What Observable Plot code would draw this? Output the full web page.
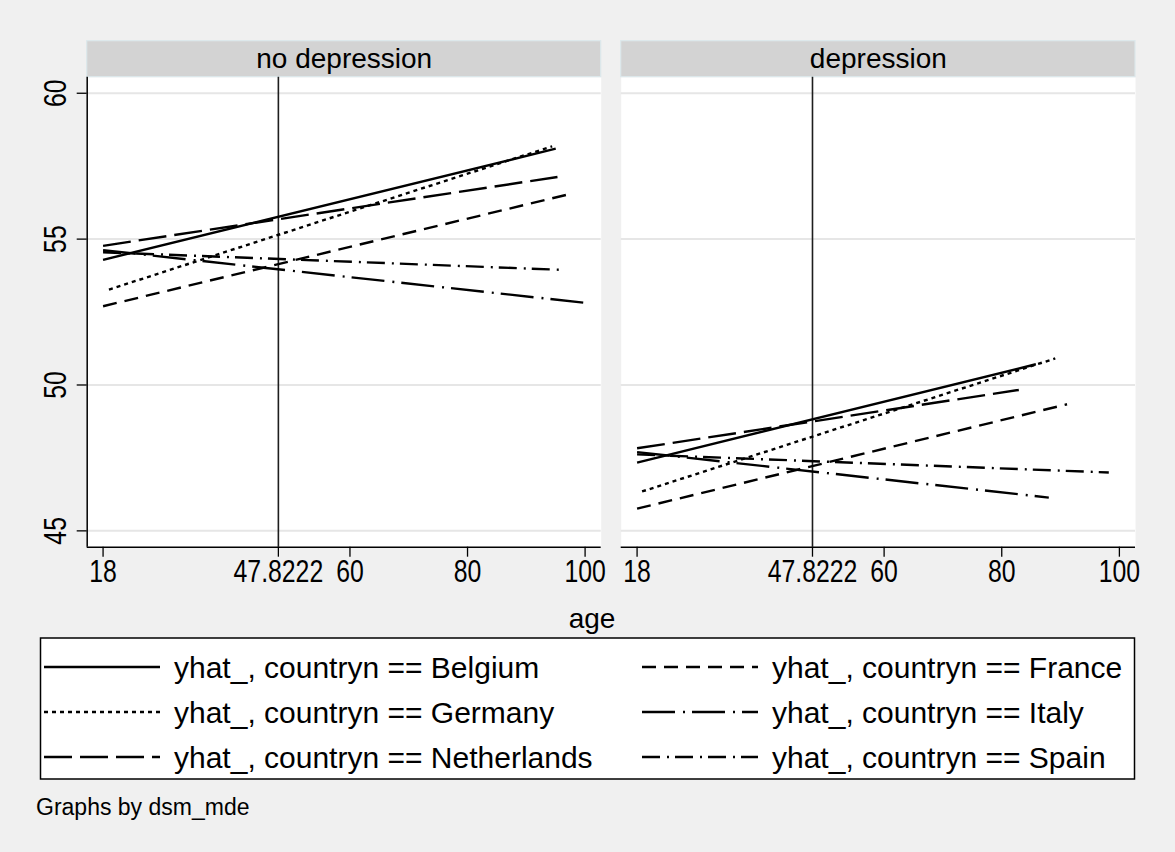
<!DOCTYPE html>
<html><head><meta charset="utf-8">
<script src="https://cdn.jsdelivr.net/npm/d3@7"></script>
<script src="https://cdn.jsdelivr.net/npm/@observablehq/plot@0.6"></script>
<style>
html,body{margin:0;padding:0;background:#f0f0f0;}
#root{position:relative;width:1175px;height:852px;background:#f0f0f0;overflow:hidden;}
.abs{position:absolute;}
</style></head><body><div id="root"></div>
<script>
// ---------- data ----------
const countries = ["Belgium", "France", "Germany", "Italy", "Netherlands", "Spain"];
const panels = ["no depression", "depression"];
const xTicks = [18, 47.8222, 60, 80, 100];
const yTicks = [45, 50, 55, 60];
const refAge = 47.8222;
// panel "no depression": fitted line end points (age, yhat)
const noDepStartAge = [18, 18, 19, 18, 18, 18];
const noDepStartVal = [54.29, 52.70, 53.27, 54.62, 54.77, 54.55];
const noDepEndAge   = [95.0, 97.3, 94.4, 100.3, 95.3, 95.6];
const noDepEndVal   = [58.10, 56.54, 58.18, 52.81, 57.13, 53.95];
// panel "depression"
const depStartAge = [18, 18, 18.85, 18, 18, 18];
const depStartVal = [47.34, 45.76, 46.35, 47.70, 47.83, 47.62];
const depEndAge   = [85.8, 91.1, 89.1, 88.0, 82.9, 98.2];
const depEndVal   = [50.71, 49.34, 50.91, 46.14, 49.83, 47.00];
const legendPrefix = "yhat_, countryn == ";
const note = "Graphs by dsm_mde";
const xTitle = "age";

// ---------- styles ----------
const dashes = {Belgium: "none", France: "14,8", Germany: "4,4", Italy: "33,8,2,7", Netherlands: "28,8", Spain: "18,7,2,6"};
const FONT = "'Liberation Sans', Arial, sans-serif";
const TICK_FS = 31;      // drawn horizontally condensed to 80%
const xDomain = [15.3, 102.74];
const yDomain = [44.44, 60.55];
const root = document.getElementById("root");
const tickLabelSet = new Set([...xTicks, ...yTicks].map(String));

function condense(svg, k) {
  svg.querySelectorAll('g[aria-label="x-axis tick label"]').forEach(g => g.remove());
  svg.querySelectorAll("text").forEach(el => {
    const t = el.getAttribute("transform") || "";
    if (tickLabelSet.has(el.textContent.trim()) && t.includes("rotate")) {
      el.setAttribute("transform", t + ` scale(${k},1)`);
    }
  });
}

function makePanel(title, sA, sV, eA, eV, opts) {
  const rows = countries.flatMap((c, i) => [
    {country: c, age: sA[i], v: sV[i]},
    {country: c, age: eA[i], v: eV[i]}
  ]);
  const strip = (index, scales, values, dim) => {
    const g = d3.create("svg:g");
    g.append("rect")
      .attr("x", dim.marginLeft).attr("y", dim.marginTop - 36)
      .attr("width", dim.width - dim.marginLeft - dim.marginRight).attr("height", 36)
      .attr("fill", "#d3d3d3").attr("stroke", "#dce8ec").attr("stroke-width", 1.2);
    return g.node();
  };
  const marks = [
    Plot.frame({fill: "white", stroke: null}),
    strip,
    Plot.gridY(yTicks, {stroke: "#e6e6e6", strokeOpacity: 1, strokeWidth: 2}),
    Plot.ruleX([refAge], {stroke: "#1e1e1e", strokeWidth: 1.6}),
    ...countries.map(c => Plot.line(rows.filter(r => r.country === c), {
      x: "age", y: "v", stroke: "black", strokeWidth: 2.4,
      strokeDasharray: dashes[c], strokeLinecap: "butt"
    })),
    Plot.ruleY([yDomain[0]], {stroke: "black", strokeWidth: 1.5}),
    Plot.axisX(xTicks, {tickSize: 10, tickPadding: 2, fontSize: TICK_FS, label: null,
      tickFormat: d => String(d), stroke: "black", strokeWidth: 1.3}),
    Plot.text(xTicks, {x: d => d, text: d => String(d), frameAnchor: "bottom", dy: 13,
      lineAnchor: "top", rotate: 0.001, fontSize: TICK_FS, fill: "black"}),
    Plot.text([title], {frameAnchor: "top", dy: -18, fontSize: 28, lineAnchor: "middle", fill: "black"})
  ];
  if (opts.yAxis) {
    marks.push(Plot.ruleX([xDomain[0]], {stroke: "black", strokeWidth: 1.5}));
    marks.push(Plot.axisY(yTicks, {tickSize: 10, tickPadding: 11, tickRotate: -90, fontSize: TICK_FS, label: null,
      stroke: "black", strokeWidth: 1.3}));
  }
  const svg = Plot.plot({
    width: opts.width, height: 600,
    marginLeft: opts.ml, marginRight: opts.mr, marginTop: 76.7, marginBottom: 53.3,
    x: {domain: xDomain, label: null},
    y: {domain: yDomain, label: null, axis: opts.yAxis ? undefined : null},
    style: {background: "transparent", fontFamily: FONT, color: "black", overflow: "visible"},
    marks
  });
  condense(svg, 0.8);
  svg.setAttribute("class", "abs");
  svg.style.left = opts.left + "px";
  svg.style.top = "0px";
  root.appendChild(svg);
}

makePanel(panels[0], noDepStartAge, noDepStartVal, noDepEndAge, noDepEndVal, {left: 0, width: 610, ml: 86.7, mr: 9.3, yAxis: true});
makePanel(panels[1], depStartAge, depStartVal, depEndAge, depEndVal, {left: 610, width: 535, ml: 10.7, mr: 10, yAxis: false});

// x title
const xt = document.createElement("div");
xt.className = "abs";
xt.textContent = xTitle;
Object.assign(xt.style, {left: "0px", width: "1184px", top: "603px", textAlign: "center", fontFamily: FONT, fontSize: "28px", lineHeight: "32px", color: "black"});
root.appendChild(xt);

// legend
const leg = d3.select(root).append("svg").attr("class", "abs")
  .attr("width", 1175).attr("height", 200).style("left", "0px").style("top", "600px");
leg.append("rect").attr("x", 40.5).attr("y", 38).attr("width", 1094).attr("height", 141)
  .attr("fill", "white").attr("stroke", "black").attr("stroke-width", 1.5);
countries.forEach((c, i) => {
  const col = i % 2, row = Math.floor(i / 2);
  const cy = 67 + row * 45;
  const x0 = col === 0 ? 44 : 642;
  leg.append("line").attr("x1", x0).attr("x2", x0 + 116).attr("y1", cy).attr("y2", cy)
    .attr("stroke", "black").attr("stroke-width", 2.4).attr("stroke-dasharray", dashes[c]);
  leg.append("text").attr("x", x0 + 130).attr("y", cy).attr("dy", "0.36em")
    .attr("font-family", FONT).attr("font-size", 30).attr("fill", "black")
    .text(legendPrefix + c);
});

// note
const nt = document.createElement("div");
nt.className = "abs";
nt.textContent = note;
Object.assign(nt.style, {left: "36px", top: "794px", fontFamily: FONT, fontSize: "23px", lineHeight: "26px", color: "black"});
root.appendChild(nt);
</script></body></html>
